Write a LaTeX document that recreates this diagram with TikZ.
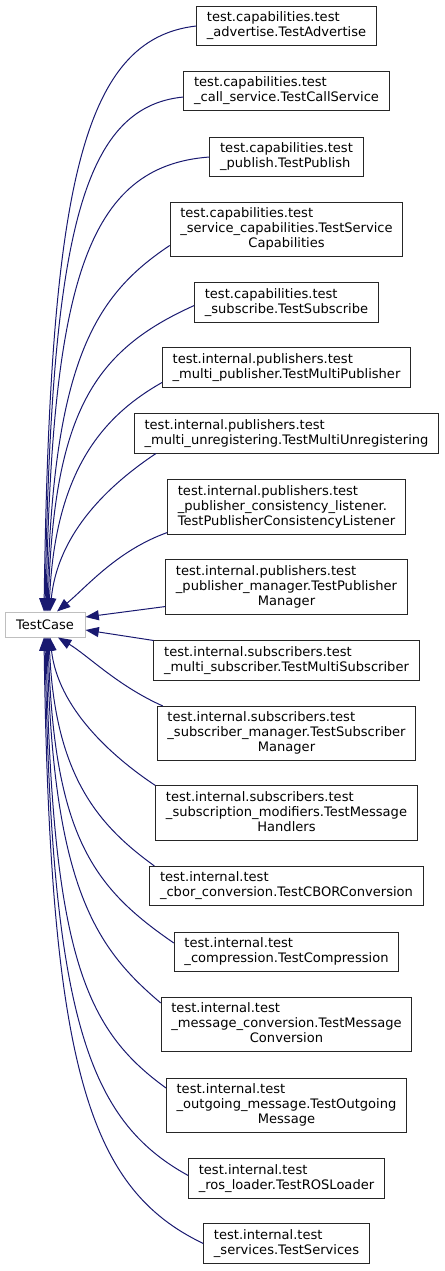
\documentclass[tikz,border=0pt]{standalone}
\usepackage{fontspec}
\setmainfont{DejaVu Sans}
\usetikzlibrary{arrows.meta, calc}
\definecolor{edgeblue}{HTML}{191970}
\definecolor{basegray}{HTML}{BFBFBF}
\newcommand\cls[1]{\begin{tabular}{@{}l@{}}#1\end{tabular}}
\newcommand\lastln[1]{\multicolumn{1}{@{}c@{}}{#1}}

\begin{document}
\begin{tikzpicture}[
    x=0.75pt, y=-0.75pt,
    every node/.style={font=\fontsize{9.8pt}{11.25pt}\selectfont},
    classbox/.style={draw=black!85, fill=white, line width=0.75pt, inner xsep=7.6pt, inner ysep=3.4pt},
    basebox/.style={draw=basegray, fill=white, line width=0.75pt, minimum width=60pt, minimum height=18.75pt, inner sep=0pt},
    inherit/.style={draw=edgeblue, line width=0.75pt, -{Triangle[length=10pt, width=7.5pt]}},
  ]
  \useasboundingbox (0,0) rectangle (445,1271);

  % base class
  \node[basebox] (base) at (45,624.5) {TestCase};

  % derived classes
  \node[classbox] (adv) at (286.5,26)
    {\cls{test.capabilities.test\\ \_advertise.TestAdvertise}};
  \node[classbox] (call) at (286.5,91)
    {\cls{test.capabilities.test\\ \_call\_service.TestCallService}};
  \node[classbox] (pub) at (286.5,157)
    {\cls{test.capabilities.test\\ \_publish.TestPublish}};
  \node[classbox] (srvcap) at (286.5,229.5)
    {\cls{test.capabilities.test\\ \_service\_capabilities.TestService\\ \lastln{Capabilities}}};
  \node[classbox] (sub) at (286.5,302.5)
    {\cls{test.capabilities.test\\ \_subscribe.TestSubscribe}};
  \node[classbox] (multipub) at (286.5,367.5)
    {\cls{test.internal.publishers.test\\ \_multi\_publisher.TestMultiPublisher}};
  \node[classbox] (multiunreg) at (286.5,433.5)
    {\cls{test.internal.publishers.test\\ \_multi\_unregistering.TestMultiUnregistering}};
  \node[classbox] (consist) at (286.5,507)
    {\cls{test.internal.publishers.test\\ \_publisher\_consistency\_listener.\\ TestPublisherConsistencyListener}};
  \node[classbox] (pubmgr) at (286.5,587)
    {\cls{test.internal.publishers.test\\ \_publisher\_manager.TestPublisher\\ \lastln{Manager}}};
  \node[classbox] (multisub) at (286.5,660.5)
    {\cls{test.internal.subscribers.test\\ \_multi\_subscriber.TestMultiSubscriber}};
  \node[classbox] (submgr) at (286.5,733.5)
    {\cls{test.internal.subscribers.test\\ \_subscriber\_manager.TestSubscriber\\ \lastln{Manager}}};
  \node[classbox] (msghand) at (286.5,813)
    {\cls{test.internal.subscribers.test\\ \_subscription\_modifiers.TestMessage\\ \lastln{Handlers}}};
  \node[classbox] (cbor) at (286.5,886)
    {\cls{test.internal.test\\ \_cbor\_conversion.TestCBORConversion}};
  \node[classbox] (compr) at (286.5,952)
    {\cls{test.internal.test\\ \_compression.TestCompression}};
  \node[classbox] (msgconv) at (286.5,1024.5)
    {\cls{test.internal.test\\ \_message\_conversion.TestMessage\\ \lastln{Conversion}}};
  \node[classbox] (outmsg) at (286.5,1105.5)
    {\cls{test.internal.test\\ \_outgoing\_message.TestOutgoing\\ \lastln{Message}}};
  \node[classbox] (rosload) at (286.5,1178.5)
    {\cls{test.internal.test\\ \_ros\_loader.TestROSLoader}};
  \node[classbox] (srv) at (286.5,1243.5)
    {\cls{test.internal.test\\ \_services.TestServices}};

  % inheritance edges, upper half
  \draw[inherit] (adv.west) .. controls +(-115,13) and +(6,-422) .. ($(base.north)+(-1,0)$);
  \draw[inherit] ($(call.west)+(0,6)$) .. controls +(-103,10) and +(6,-371) .. ($(base.north)+(0,0)$);
  \draw[inherit] (pub.west) .. controls +(-123,9) and +(6,-328) .. ($(base.north)+(1,0)$);
  \draw[inherit] ($(srvcap.west)+(0,16)$) .. controls +(-75,50) and +(6,-250) .. ($(base.north)+(2,0)$);
  \draw[inherit] ($(sub.west)+(0,3)$) .. controls +(-100,45) and +(6,-200) .. ($(base.north)+(3,0)$);
  \draw[inherit] ($(multipub.west)+(0,15)$) .. controls +(-60,34) and +(6,-140) .. ($(base.north)+(4,0)$);
  \draw[inherit] ($(multiunreg.south west)+(22,0)$) .. controls +(-45,30) and +(8,-80) .. ($(base.north)+(5,0)$);
  \draw[inherit] ($(consist.south west)+(0,-2)$) .. controls +(-50,18) and +(30,-25) .. ($(base.north)+(12,0)$);

  % straight edges to the right side
  \draw[inherit] ($(pubmgr.south west)+(0,-8)$) -- ($(base.east)+(0,-7.5)$);
  \draw[inherit] (multisub.north west) -- ($(base.east)+(0,5.5)$);

  % inheritance edges, lower half
  \draw[inherit] ($(submgr.north west)+(6,0)$) .. controls +(-45,-20) and +(30,18) .. ($(base.south)+(13,0)$);
  \draw[inherit] (msghand.north west) .. controls +(-45,-30) and +(8,70) .. ($(base.south)+(5,0)$);
  \draw[inherit] ($(cbor.north west)+(5,0)$) .. controls +(-55,-40) and +(6,140) .. ($(base.south)+(4,0)$);
  \draw[inherit] ($(compr.west)+(0,-9)$) .. controls +(-80,-55) and +(6,200) .. ($(base.south)+(3,0)$);
  \draw[inherit] ($(msgconv.north west)+(0,6)$) .. controls +(-65,-55) and +(6,250) .. ($(base.south)+(2,0)$);
  \draw[inherit] ($(outmsg.north west)+(0,10)$) .. controls +(-80,-58) and +(6,320) .. ($(base.south)+(1,0)$);
  \draw[inherit] ($(rosload.west)+(0,-3)$) .. controls +(-100,-55) and +(6,380) .. ($(base.south)+(0,0)$);
  \draw[inherit] (srv.west) .. controls +(-115,-55) and +(6,430) .. ($(base.south)+(-1,0)$);
\end{tikzpicture}
\end{document}
